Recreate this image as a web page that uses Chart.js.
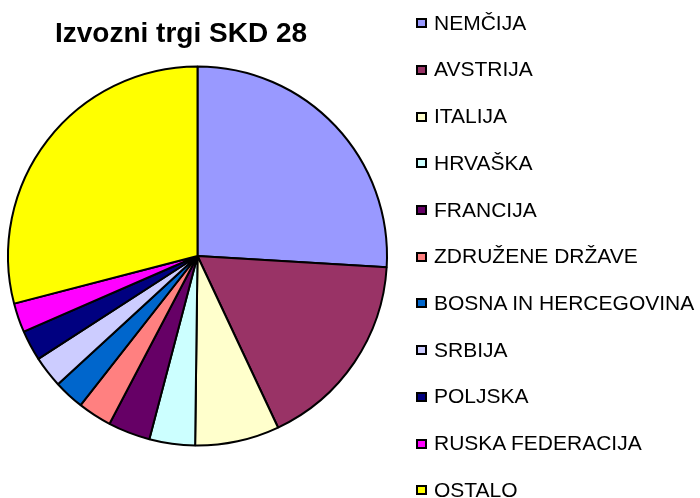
<!DOCTYPE html>
<html>
<head>
<meta charset="utf-8">
<script src="https://cdn.jsdelivr.net/npm/chart.js"></script>
<style>
  body { margin: 0; background: #fff; }
  #wrap { position: relative; width: 700px; height: 498px; overflow: hidden; font-family: Arial, "Liberation Sans", sans-serif; color: #000; }
  #myChart { position: absolute; left: 0; top: 0; }
  #title { position: absolute; left: 55px; top: 19px; font-size: 28px; font-weight: bold; line-height: 28px; white-space: nowrap; }
  .item { position: absolute; left: 416px; padding-left: 18px; font-size: 21px; line-height: 21px; white-space: nowrap; }
  .box { position: absolute; left: 0; top: 6.5px; width: 7px; height: 6px; border: 2px solid #000; }
</style>
</head>
<body>
<div id="wrap">
  <canvas id="myChart" width="700" height="498"></canvas>
  <div id="title">Izvozni trgi SKD 28</div>
  <div id="legend"></div>
</div>
<script>
const countries = ['NEMČIJA', 'AVSTRIJA', 'ITALIJA', 'HRVAŠKA', 'FRANCIJA', 'ZDRUŽENE DRŽAVE',
  'BOSNA IN HERCEGOVINA', 'SRBIJA', 'POLJSKA', 'RUSKA FEDERACIJA', 'OSTALO'];
const shares = [26.0, 17.1, 7.2, 3.9, 3.6, 2.9, 2.6, 2.7, 2.6, 2.5, 29.1];
const colors = ['#9999FF', '#993366', '#FFFFCC', '#CCFFFF', '#660066', '#FF8080',
  '#0066CC', '#CCCCFF', '#000080', '#FF00FF', '#FFFF00'];

// legend on the right, one row every ~46.7px
let legend = document.getElementById('legend');
countries.forEach((name, i) => {
  let row = document.createElement('div');
  row.className = 'item';
  row.style.top = (11.75 + i * 46.7) + 'px';
  let box = document.createElement('span');
  box.className = 'box';
  box.style.background = colors[i];
  row.appendChild(box);
  row.appendChild(document.createTextNode(name));
  legend.appendChild(row);
});

let ctx = document.getElementById('myChart').getContext('2d');
let pieChart = new Chart(ctx, {
  type: 'pie',
  data: {
    labels: countries,
    datasets: [{
      data: shares,
      backgroundColor: colors,
      borderColor: '#000',
      borderWidth: 2,
      hoverBorderWidth: 2
    }]
  },
  options: {
    responsive: false,
    animation: false,
    layout: { padding: { left: 7, top: 65.5, right: 312, bottom: 51.5 } },
    plugins: {
      legend: { display: false },
      tooltip: { enabled: false }
    }
  }
});
</script>
</body>
</html>
